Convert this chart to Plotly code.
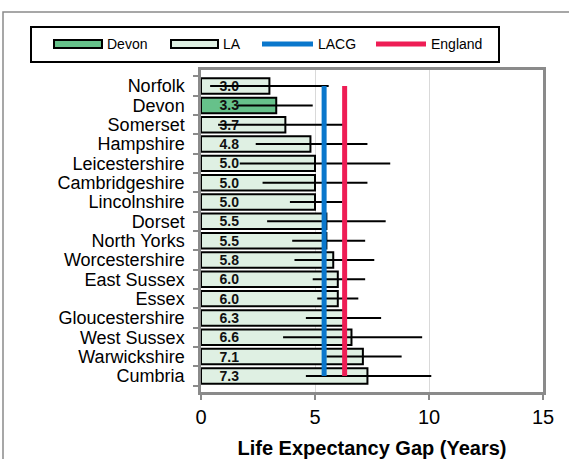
import plotly.graph_objects as go

categories = ["Norfolk", "Devon", "Somerset", "Hampshire", "Leicestershire",
              "Cambridgeshire", "Lincolnshire", "Dorset", "North Yorks",
              "Worcestershire", "East Sussex", "Essex", "Gloucestershire",
              "West Sussex", "Warwickshire", "Cumbria"]
gap_values = [3.0, 3.3, 3.7, 4.8, 5.0, 5.0, 5.0, 5.5, 5.5, 5.8, 6.0, 6.0, 6.3, 6.6, 7.1, 7.3]
ci_lower = [0.4, 1.6, 0.75, 2.4, 1.7, 2.7, 3.9, 2.9, 4.0, 4.1, 4.9, 5.1, 4.6, 3.6, 5.5, 4.6]
ci_upper = [5.6, 4.9, 6.4, 7.3, 8.3, 7.3, 6.2, 8.1, 7.2, 7.6, 7.2, 6.9, 7.9, 9.7, 8.8, 10.1]
lacg_value = 5.4
england_value = 6.3
highlight = "Devon"
x_ticks = [0, 5, 10, 15]

C_DEVON = "#66C18A"
C_LA = "#DFF0E3"
C_LACG = "#0A77CC"
C_ENG = "#EE1D55"
FONT = "Liberation Sans, Arial, sans-serif"

W, H = 569, 459
L, R, T, B = 201, 26, 70, 67
PW, PH = W - L - R, H - T - B

def fx(px):
    return (px - L) / PW

def fy(py):
    return (H - B - py) / PH

fig = go.Figure()

fig.add_trace(go.Bar(
    y=categories, x=gap_values, orientation="h",
    marker=dict(color=[C_DEVON if c == highlight else C_LA for c in categories],
                line=dict(color="black", width=2)),
    error_x=dict(type="data", symmetric=False,
                 array=[u - v for u, v in zip(ci_upper, gap_values)],
                 arrayminus=[v - l for v, l in zip(gap_values, ci_lower)],
                 color="black", thickness=2, width=0),
    texttemplate="\u00a0\u00a0\u00a0\u00a0%{x:.1f}",
    textposition="inside", insidetextanchor="start", textangle=0,
    constraintext="none",
    textfont=dict(family=FONT, size=14, color="#111111", weight="bold"),
    showlegend=False, hoverinfo="skip",
))

fig.add_trace(go.Scatter(
    x=[lacg_value] * len(categories), y=categories, mode="lines",
    line=dict(color=C_LACG, width=5), showlegend=False, hoverinfo="skip"))
fig.add_trace(go.Scatter(
    x=[england_value] * len(categories), y=categories, mode="lines",
    line=dict(color=C_ENG, width=5), showlegend=False, hoverinfo="skip"))

shapes = []
annotations = []
# outer chart border
shapes.append(dict(type="rect", xref="paper", yref="paper",
                   x0=fx(3), x1=fx(575), y0=fy(466), y1=fy(12),
                   line=dict(color="#8a8a8a", width=1.5), fillcolor="rgba(0,0,0,0)", layer="below"))
# legend box
shapes.append(dict(type="rect", xref="paper", yref="paper",
                   x0=fx(31), x1=fx(499), y0=fy(62), y1=fy(27),
                   line=dict(color="black", width=2), fillcolor="white"))
legend_items = [
    ("Devon", "rect", C_DEVON, 54, 102),
    ("LA", "rect", C_LA, 171, 218),
    ("LACG", "line", C_LACG, 262, 313),
    ("England", "line", C_ENG, 376, 426),
]
for name, kind, col, a, b in legend_items:
    if kind == "rect":
        shapes.append(dict(type="rect", xref="paper", yref="paper",
                           x0=fx(a), x1=fx(b), y0=fy(48), y1=fy(40),
                           line=dict(color="black", width=2), fillcolor=col))
    else:
        shapes.append(dict(type="line", xref="paper", yref="paper",
                           x0=fx(a), x1=fx(b), y0=fy(44), y1=fy(44),
                           line=dict(color=col, width=5)))
    annotations.append(dict(text=name, xref="paper", yref="paper",
                            x=fx(b + 3), y=fy(44), xanchor="left", yanchor="middle",
                            showarrow=False, font=dict(family=FONT, size=14, color="black")))

fig.update_layout(
    width=W, height=H,
    margin=dict(l=L, r=R, t=T, b=B, pad=0, autoexpand=False),
    paper_bgcolor="white", plot_bgcolor="white",
    bargap=0.2,
    font=dict(family=FONT, size=20, color="black"),
    shapes=shapes, annotations=annotations,
    showlegend=False,
    xaxis=dict(range=[0, 15], tickvals=x_ticks, ticks="outside", ticklen=5,
               tickcolor="#8a8a8a", tickwidth=1.5, ticklabelstandoff=0,
               automargin=False,
               showline=True, linecolor="#8a8a8a", linewidth=2.5, mirror=True,
               showgrid=True, gridcolor="#d9d9d9", gridwidth=1, zeroline=False,
               tickfont=dict(size=20),
               title=dict(text="<b>Life Expectancy Gap (Years)</b>", font=dict(size=20),
                          standoff=20)),
    yaxis=dict(autorange="reversed", ticks="outside", ticklen=5, tickson="boundaries",
               tickmode="array", tickvals=categories, ticktext=categories,
               tickcolor="#8a8a8a", tickwidth=1.5, ticklabelstandoff=10,
               automargin=False,
               showline=True, linecolor="#8a8a8a", linewidth=2.5, mirror=True,
               showgrid=False, tickfont=dict(size=18)),
)

fig.write_html("out.html", config={"displayModeBar": False},
               post_script="document.body.style.margin='0';")
